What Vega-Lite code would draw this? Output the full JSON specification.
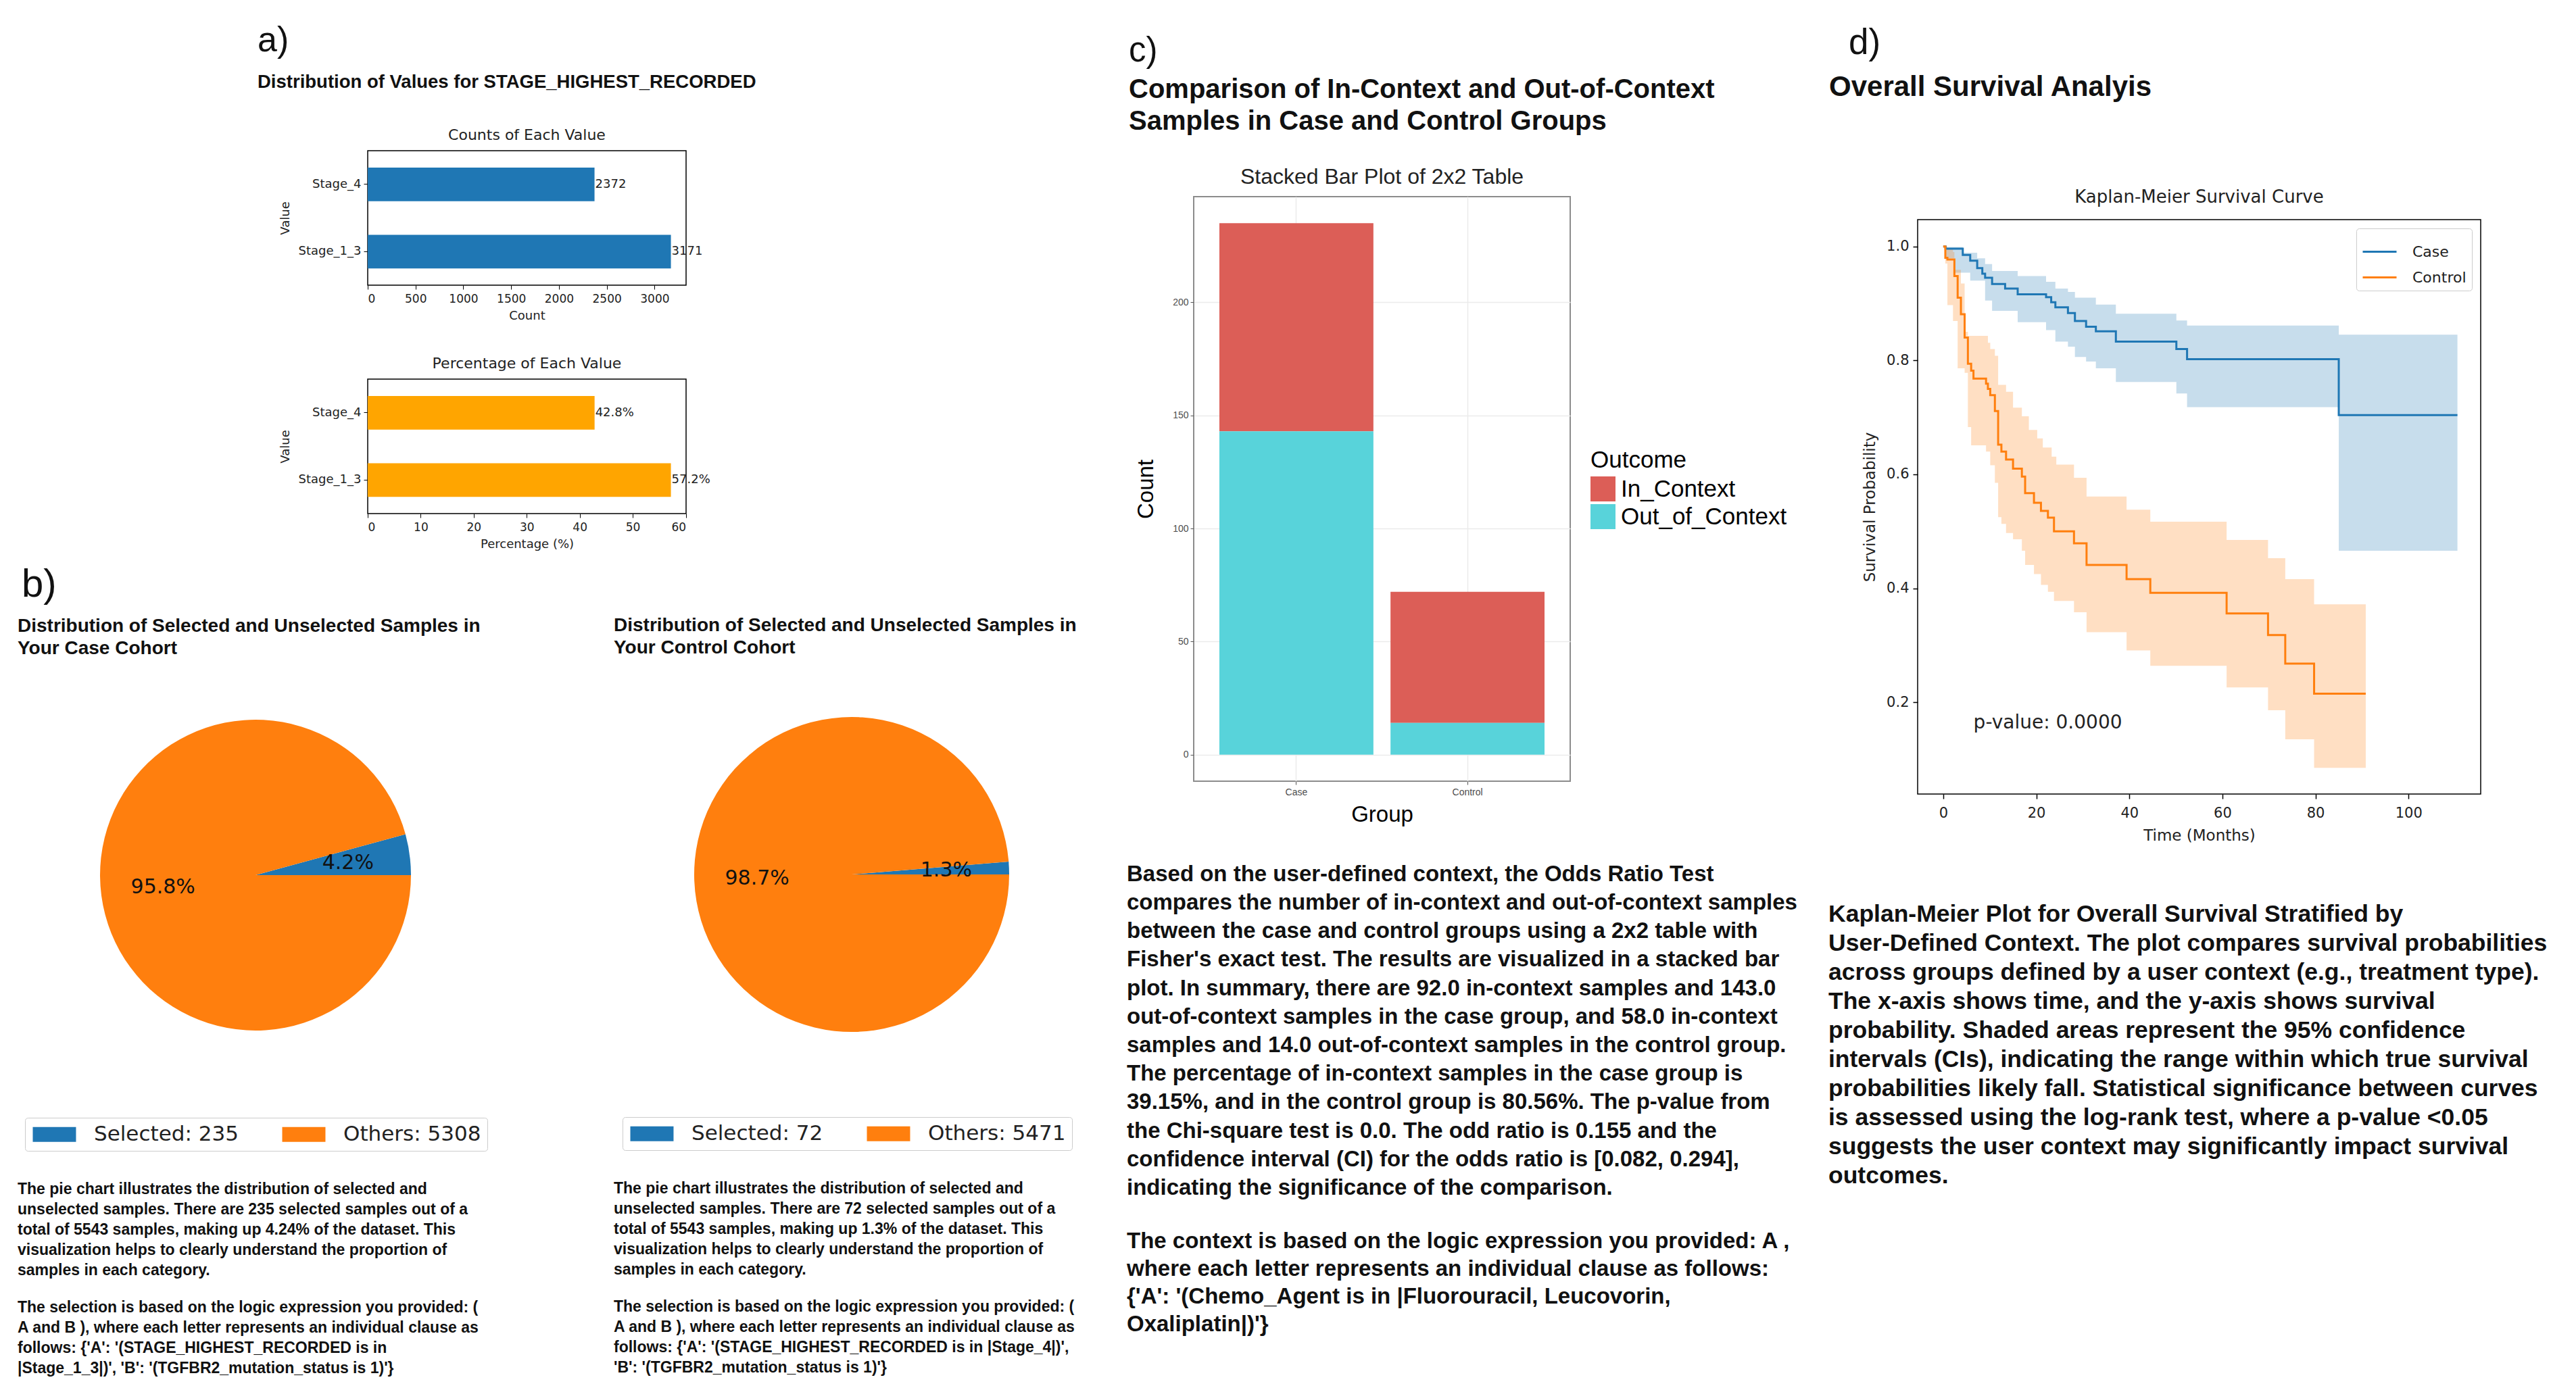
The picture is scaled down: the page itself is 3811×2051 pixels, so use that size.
{
  "$schema": "https://vega.github.io/schema/vega-lite/v6.json",
  "background": "white",
  "padding": 0,
  "config": {
    "view": {"stroke": null},
    "font": "Liberation Sans",
    "axis": {"grid": false, "domain": false},
    "title": {"color": "#111111", "subtitleColor": "#111111"},
    "legend": {"labelLimit": 2000}
  },
  "spacing": 0,
  "bounds": "flush",
  "resolve": {"scale": {"color": "independent", "theta": "independent"}, "legend": {"color": "independent"}},
  "hconcat": [
    {"width": 59, "height": 1, "data": {"values": []}, "mark": "point"},
    {
      "vconcat": [
        {"width": 1, "height": 837.2, "data": {"values": []}, "mark": "point",
         "title": {"text": "b)", "orient": "bottom", "anchor": "start", "frame": "group", "offset": 0, "dx": -27, "font": "Liberation Sans", "fontSize": 58, "fontWeight": "normal"}},
        {"width": 1, "height": 221.8, "data": {"values": []}, "mark": "point"},
        {
          "width": 638, "height": 470,
          "title": {"text": ["Distribution of Selected and Unselected Samples in", "Your Case Cohort"], "anchor": "start", "frame": "group", "offset": 86, "dx": -33, "font": "Liberation Sans", "fontSize": 28, "fontWeight": "bold", "lineHeight": 33},
          "data": {"values": [
            {"label": "Selected: 235", "n": 235, "pct": "4.2%", "k": 1},
            {"label": "Others: 5308", "n": 5308, "pct": "95.8%", "k": 2}
          ]},
          "encoding": {
            "theta": {"field": "n", "type": "quantitative", "stack": true, "scale": {"range": [1.5708, -4.7124]}},
            "order": {"field": "k", "type": "quantitative"}
          },
          "layer": [
            {"mark": {"type": "arc", "outerRadius": 230},
             "encoding": {"color": {"field": "label", "type": "nominal", "scale": {"domain": ["Selected: 235", "Others: 5308"], "range": ["#1f77b4", "#ff7f0e"]},
               "legend": {"orient": "none", "legendX": -22, "legendY": 594, "direction": "horizontal", "title": null, "labelFont": "DejaVu Sans", "labelFontSize": 31, "labelColor": "#222222", "symbolType": "M-1,-0.846H3.92V0.846H-1Z", "symbolSize": 676, "symbolStrokeWidth": 0, "symbolOpacity": 1, "labelOffset": 62, "columnPadding": 62, "padding": 9, "strokeColor": "#cccccc", "cornerRadius": 4, "fillColor": "white"}}}},
            {"mark": {"type": "text", "radius": 138, "font": "DejaVu Sans", "fontSize": 30},
             "encoding": {"text": {"field": "pct", "type": "nominal"}, "detail": {"field": "label", "type": "nominal"}, "color": {"value": "#111111"}}}
          ]
        },
        {"width": 1, "height": 218.8, "data": {"values": []}, "mark": "point",
         "title": {"text": [
            "The pie chart illustrates the distribution of selected and",
            "unselected samples. There are 235 selected samples out of a",
            "total of 5543 samples, making up 4.24% of the dataset. This",
            "visualization helps to clearly understand the proportion of",
            "samples in each category."],
            "subtitle": [
            "The selection is based on the logic expression you provided: (",
            "A and B ), where each letter represents an individual clause as",
            "follows: {'A': '(STAGE_HIGHEST_RECORDED is in",
            "|Stage_1_3|)', 'B': '(TGFBR2_mutation_status is 1)'}"],
            "orient": "bottom", "anchor": "start", "frame": "group", "offset": 0, "dx": -33,
            "font": "Liberation Sans", "fontSize": 23, "fontWeight": "bold", "lineHeight": 30,
            "subtitleFont": "Liberation Sans", "subtitleFontSize": 23, "subtitleFontWeight": "bold", "subtitleLineHeight": 30, "subtitlePadding": 32}}
      ],
      "spacing": 0,
      "bounds": "flush",
      "resolve": {"scale": {"color": "independent", "theta": "independent"}, "legend": {"color": "independent"}}
    },
    {"width": 485, "height": 1, "data": {"values": []}, "mark": "point"},
    {
      "vconcat": [
        {"width": 1, "height": 35, "data": {"values": []}, "mark": "point",
         "title": {"text": "a)", "subtitle": "Distribution of Values for STAGE_HIGHEST_RECORDED", "orient": "bottom", "anchor": "start", "frame": "group", "offset": 0, "dx": -163, "font": "Liberation Sans", "fontSize": 52, "fontWeight": "normal", "subtitleFont": "Liberation Sans", "subtitleFontSize": 27.5, "subtitleFontWeight": "bold", "subtitlePadding": 21}},
        {"width": 1, "height": 188, "data": {"values": []}, "mark": "point"},
        {
          "width": 471, "height": 199,
          "view": {"stroke": "black", "strokeWidth": 1.5},
          "title": {"text": "Counts of Each Value", "font": "DejaVu Sans", "fontSize": 22, "fontWeight": "normal", "offset": 11, "frame": "group", "anchor": "middle", "color": "#222222"},
          "data": {"values": [
            {"Value": "Stage_4", "Count": 2372},
            {"Value": "Stage_1_3", "Count": 3171}
          ]},
          "encoding": {
            "y": {"field": "Value", "type": "nominal", "sort": ["Stage_4", "Stage_1_3"], "scale": {"paddingInner": 0.5, "paddingOuter": 0.25},
              "axis": {"title": "Value", "titleFont": "DejaVu Sans", "titleFontSize": 18, "titleFontWeight": "normal", "titleColor": "#222222", "labelFont": "DejaVu Sans", "labelFontSize": 18, "labelColor": "#222222", "tickColor": "black", "tickSize": 6, "labelPadding": 4, "titlePadding": 10}},
            "x": {"field": "Count", "type": "quantitative", "scale": {"domain": [0, 3329.55], "nice": false},
              "axis": {"title": "Count", "values": [0, 500, 1000, 1500, 2000, 2500, 3000], "format": "d", "titleFont": "DejaVu Sans", "titleFontSize": 18, "titleFontWeight": "normal", "titleColor": "#222222", "labelFont": "DejaVu Sans", "labelFontSize": 17, "labelColor": "#222222", "tickColor": "black", "tickSize": 6, "labelPadding": 6, "titlePadding": 8}}
          },
          "layer": [
            {"mark": {"type": "bar", "color": "#1f77b4"}},
            {"mark": {"type": "text", "align": "left", "baseline": "middle", "dx": 1, "font": "DejaVu Sans", "fontSize": 18, "color": "#222222"}, "encoding": {"text": {"field": "Count", "type": "quantitative", "format": "d"}}}
          ]
        },
        {"width": 1, "height": 139, "data": {"values": []}, "mark": "point"},
        {
          "width": 471, "height": 199,
          "view": {"stroke": "black", "strokeWidth": 1.5},
          "title": {"text": "Percentage of Each Value", "font": "DejaVu Sans", "fontSize": 22, "fontWeight": "normal", "offset": 11, "frame": "group", "anchor": "middle", "color": "#222222"},
          "data": {"values": [
            {"Value": "Stage_4", "Percentage": 42.8, "label": "42.8%"},
            {"Value": "Stage_1_3", "Percentage": 57.2, "label": "57.2%"}
          ]},
          "encoding": {
            "y": {"field": "Value", "type": "nominal", "sort": ["Stage_4", "Stage_1_3"], "scale": {"paddingInner": 0.5, "paddingOuter": 0.25},
              "axis": {"title": "Value", "titleFont": "DejaVu Sans", "titleFontSize": 18, "titleFontWeight": "normal", "titleColor": "#222222", "labelFont": "DejaVu Sans", "labelFontSize": 18, "labelColor": "#222222", "tickColor": "black", "tickSize": 6, "labelPadding": 4, "titlePadding": 10}},
            "x": {"field": "Percentage", "type": "quantitative", "scale": {"domain": [0, 60.06], "nice": false},
              "axis": {"title": "Percentage (%)", "values": [0, 10, 20, 30, 40, 50, 60], "titleFont": "DejaVu Sans", "titleFontSize": 18, "titleFontWeight": "normal", "titleColor": "#222222", "labelFont": "DejaVu Sans", "labelFontSize": 17, "labelColor": "#222222", "tickColor": "black", "tickSize": 6, "labelPadding": 6, "titlePadding": 8}}
          },
          "layer": [
            {"mark": {"type": "bar", "color": "#ffa500"}},
            {"mark": {"type": "text", "align": "left", "baseline": "middle", "dx": 1, "font": "DejaVu Sans", "fontSize": 18, "color": "#222222"}, "encoding": {"text": {"field": "label", "type": "nominal"}}}
          ]
        }
      ],
      "spacing": 0,
      "bounds": "flush"
    },
    {"width": 476, "height": 1, "data": {"values": []}, "mark": "point"},
    {
      "vconcat": [
        {"width": 1, "height": 1059, "data": {"values": []}, "mark": "point"},
        {
          "width": 480, "height": 470,
          "title": {"text": ["Distribution of Selected and Unselected Samples in", "Your Control Cohort"], "anchor": "start", "frame": "group", "offset": 86, "dx": -112, "font": "Liberation Sans", "fontSize": 28, "fontWeight": "bold", "lineHeight": 33},
          "data": {"values": [
            {"label": "Selected: 72", "n": 72, "pct": "1.3%", "k": 1},
            {"label": "Others: 5471", "n": 5471, "pct": "98.7%", "k": 2}
          ]},
          "encoding": {
            "theta": {"field": "n", "type": "quantitative", "stack": true, "scale": {"range": [1.5708, -4.7124]}},
            "order": {"field": "k", "type": "quantitative"}
          },
          "layer": [
            {"mark": {"type": "arc", "outerRadius": 233},
             "encoding": {"color": {"field": "label", "type": "nominal", "scale": {"domain": ["Selected: 72", "Others: 5471"], "range": ["#1f77b4", "#ff7f0e"]},
               "legend": {"orient": "none", "legendX": -99, "legendY": 594, "direction": "horizontal", "title": null, "labelFont": "DejaVu Sans", "labelFontSize": 31, "labelColor": "#222222", "symbolType": "M-1,-0.846H3.92V0.846H-1Z", "symbolSize": 676, "symbolStrokeWidth": 0, "symbolOpacity": 1, "labelOffset": 62, "columnPadding": 62, "padding": 9, "strokeColor": "#cccccc", "cornerRadius": 4, "fillColor": "white"}}}},
            {"mark": {"type": "text", "radius": 140, "font": "DejaVu Sans", "fontSize": 30},
             "encoding": {"text": {"field": "pct", "type": "nominal"}, "detail": {"field": "label", "type": "nominal"}, "color": {"value": "#111111"}}}
          ]
        },
        {"width": 1, "height": 218.8, "data": {"values": []}, "mark": "point",
         "title": {"text": [
            "The pie chart illustrates the distribution of selected and",
            "unselected samples. There are 72 selected samples out of a",
            "total of 5543 samples, making up 1.3% of the dataset. This",
            "visualization helps to clearly understand the proportion of",
            "samples in each category."],
            "subtitle": [
            "The selection is based on the logic expression you provided: (",
            "A and B ), where each letter represents an individual clause as",
            "follows: {'A': '(STAGE_HIGHEST_RECORDED is in |Stage_4|)',",
            "'B': '(TGFBR2_mutation_status is 1)'}"],
            "orient": "bottom", "anchor": "start", "frame": "group", "offset": 0, "dx": -112,
            "font": "Liberation Sans", "fontSize": 23, "fontWeight": "bold", "lineHeight": 30,
            "subtitleFont": "Liberation Sans", "subtitleFontSize": 23, "subtitleFontWeight": "bold", "subtitleLineHeight": 30, "subtitlePadding": 32}}
      ],
      "spacing": 0,
      "bounds": "flush",
      "resolve": {"scale": {"color": "independent", "theta": "independent"}, "legend": {"color": "independent"}}
    },
    {"width": 746, "height": 1, "data": {"values": []}, "mark": "point"},
    {
      "vconcat": [
        {"width": 1, "height": 50.7, "data": {"values": []}, "mark": "point",
         "title": {"text": "c)", "subtitle": ["Comparison of In-Context and Out-of-Context", "Samples in Case and Control Groups"], "orient": "bottom", "anchor": "start", "frame": "group", "offset": 0, "dx": -96, "font": "Liberation Sans", "fontSize": 51, "fontWeight": "normal", "subtitleFont": "Liberation Sans", "subtitleFontSize": 40, "subtitleFontWeight": "bold", "subtitleLineHeight": 47, "subtitlePadding": 11.7}},
        {"width": 1, "height": 239.3, "data": {"values": []}, "mark": "point"},
        {
          "width": 557, "height": 865,
          "view": {"stroke": "#8c8c8c", "strokeWidth": 2},
          "title": {"text": "Stacked Bar Plot of 2x2 Table", "frame": "group", "anchor": "middle", "offset": 11.8, "font": "Liberation Sans", "fontSize": 32, "fontWeight": "normal", "color": "#222222"},
          "data": {"values": [
            {"Group": "Case", "Outcome": "In_Context", "Count": 92},
            {"Group": "Case", "Outcome": "Out_of_Context", "Count": 143},
            {"Group": "Control", "Outcome": "In_Context", "Count": 58},
            {"Group": "Control", "Outcome": "Out_of_Context", "Count": 14}
          ]},
          "mark": {"type": "bar"},
          "encoding": {
            "x": {"field": "Group", "type": "nominal", "scale": {"paddingInner": 0.1, "paddingOuter": 0.15},
              "axis": {"title": "Group", "labelAngle": 0, "grid": true, "bandPosition": 0.5, "gridColor": "#ebebeb", "gridWidth": 1.5, "tickColor": "#555555", "tickSize": 5, "labelColor": "#4d4d4d", "labelFontSize": 14, "labelPadding": 4, "titleFontSize": 33, "titleFontWeight": "normal", "titleColor": "black", "titlePadding": 10}},
            "y": {"field": "Count", "type": "quantitative", "stack": "zero", "scale": {"domain": [-11.75, 246.75], "nice": false, "zero": false},
              "axis": {"title": "Count", "values": [0, 50, 100, 150, 200], "grid": true, "gridColor": "#ebebeb", "gridWidth": 1.5, "tickColor": "#555555", "tickSize": 5, "labelColor": "#4d4d4d", "labelFontSize": 14, "labelPadding": 3, "titleFontSize": 33, "titleFontWeight": "normal", "titleColor": "black", "titlePadding": 22}},
            "color": {"field": "Outcome", "type": "nominal", "scale": {"domain": ["In_Context", "Out_of_Context"], "range": ["#dc5e57", "#58d3da"]},
              "legend": {"orient": "none", "legendX": 587, "legendY": 373, "title": "Outcome", "titleFontSize": 35, "titleFontWeight": "normal", "titleColor": "black", "titlePadding": 6, "labelFontSize": 35, "labelColor": "black", "symbolType": "square", "symbolSize": 1369, "symbolStrokeWidth": 0, "symbolOpacity": 1, "labelOffset": 8, "rowPadding": 4, "padding": 0}},
            "order": {"field": "Outcome", "sort": "descending"}
          }
        },
        {"width": 1, "height": 121.9, "data": {"values": []}, "mark": "point",
         "title": {"text": [
            "Based on the user-defined context, the Odds Ratio Test",
            "compares the number of in-context and out-of-context samples",
            "between the case and control groups using a 2x2 table with",
            "Fisher's exact test. The results are visualized in a stacked bar",
            "plot. In summary, there are 92.0 in-context samples and 143.0",
            "out-of-context samples in the case group, and 58.0 in-context",
            "samples and 14.0 out-of-context samples in the control group.",
            "The percentage of in-context samples in the case group is",
            "39.15%, and in the control group is 80.56%. The p-value from",
            "the Chi-square test is 0.0. The odd ratio is 0.155 and the",
            "confidence interval (CI) for the odds ratio is [0.082, 0.294],",
            "indicating the significance of the comparison."],
            "subtitle": [
            "The context is based on the logic expression you provided: A ,",
            "where each letter represents an individual clause as follows:",
            "{'A': '(Chemo_Agent is in |Fluorouracil, Leucovorin,",
            "Oxaliplatin|)'}"],
            "orient": "bottom", "anchor": "start", "frame": "group", "offset": 0, "dx": -99,
            "font": "Liberation Sans", "fontSize": 33, "fontWeight": "bold", "lineHeight": 42.2,
            "subtitleFont": "Liberation Sans", "subtitleFontSize": 33, "subtitleFontWeight": "bold", "subtitleLineHeight": 41, "subtitlePadding": 45.8}}
      ],
      "spacing": 0,
      "bounds": "flush",
      "resolve": {"scale": {"color": "independent"}, "legend": {"color": "independent"}}
    },
    {"width": 1071, "height": 1, "data": {"values": []}, "mark": "point"},
    {
      "vconcat": [
        {"width": 1, "height": 38.1, "data": {"values": []}, "mark": "point",
         "title": {"text": "d)", "orient": "bottom", "anchor": "start", "frame": "group", "offset": 0, "dx": -102, "font": "Liberation Sans", "fontSize": 53, "fontWeight": "normal"}},
        {"width": 1, "height": 70.4, "data": {"values": []}, "mark": "point",
         "title": {"text": "Overall Survival Analyis", "orient": "bottom", "anchor": "start", "frame": "group", "offset": 0, "dx": -131, "font": "Liberation Sans", "fontSize": 42, "fontWeight": "bold"}},
        {"width": 1, "height": 214.5, "data": {"values": []}, "mark": "point"},
        {
          "width": 833, "height": 850,
          "view": {"stroke": "black", "strokeWidth": 1.5},
          "title": {"text": "Kaplan-Meier Survival Curve", "frame": "group", "anchor": "middle", "offset": 20, "font": "DejaVu Sans", "fontSize": 26, "fontWeight": "normal", "color": "#222222"},
          "data": {"values": [
            {"g": "Case", "t": 0, "s": 1.0, "lo": 1.0, "hi": 1.0},
            {"g": "Case", "t": 0.5, "s": 0.996, "lo": 0.979, "hi": 0.999},
            {"g": "Case", "t": 2.4, "s": 0.996, "lo": 0.954, "hi": 0.999},
            {"g": "Case", "t": 4.2, "s": 0.985, "lo": 0.954, "hi": 0.989},
            {"g": "Case", "t": 5.8, "s": 0.975, "lo": 0.94, "hi": 0.989},
            {"g": "Case", "t": 7.3, "s": 0.962, "lo": 0.94, "hi": 0.979},
            {"g": "Case", "t": 8.4, "s": 0.952, "lo": 0.94, "hi": 0.979},
            {"g": "Case", "t": 9.0, "s": 0.945, "lo": 0.905, "hi": 0.969},
            {"g": "Case", "t": 10.5, "s": 0.934, "lo": 0.887, "hi": 0.957},
            {"g": "Case", "t": 13.3, "s": 0.926, "lo": 0.887, "hi": 0.957},
            {"g": "Case", "t": 16, "s": 0.916, "lo": 0.867, "hi": 0.948},
            {"g": "Case", "t": 22.1, "s": 0.911, "lo": 0.853, "hi": 0.938},
            {"g": "Case", "t": 23.2, "s": 0.902, "lo": 0.853, "hi": 0.938},
            {"g": "Case", "t": 24.1, "s": 0.893, "lo": 0.833, "hi": 0.926},
            {"g": "Case", "t": 26.8, "s": 0.883, "lo": 0.824, "hi": 0.92},
            {"g": "Case", "t": 28.3, "s": 0.869, "lo": 0.806, "hi": 0.91},
            {"g": "Case", "t": 30.7, "s": 0.859, "lo": 0.798, "hi": 0.91},
            {"g": "Case", "t": 32.8, "s": 0.851, "lo": 0.786, "hi": 0.898},
            {"g": "Case", "t": 37.1, "s": 0.833, "lo": 0.762, "hi": 0.882},
            {"g": "Case", "t": 50.1, "s": 0.82, "lo": 0.742, "hi": 0.87},
            {"g": "Case", "t": 52.4, "s": 0.802, "lo": 0.718, "hi": 0.861},
            {"g": "Case", "t": 85, "s": 0.704, "lo": 0.466, "hi": 0.845},
            {"g": "Case", "t": 110.5, "s": 0.704, "lo": 0.466, "hi": 0.845},
            {"g": "Control", "t": 0, "s": 1.0, "lo": 1.0, "hi": 1.0},
            {"g": "Control", "t": 0.45, "s": 0.98, "lo": 0.97, "hi": 1.0},
            {"g": "Control", "t": 0.9, "s": 0.977, "lo": 0.897, "hi": 0.995},
            {"g": "Control", "t": 2.1, "s": 0.977, "lo": 0.869, "hi": 0.99},
            {"g": "Control", "t": 2.4, "s": 0.948, "lo": 0.869, "hi": 0.959},
            {"g": "Control", "t": 3.1, "s": 0.91, "lo": 0.786, "hi": 0.959},
            {"g": "Control", "t": 3.8, "s": 0.881, "lo": 0.786, "hi": 0.935},
            {"g": "Control", "t": 4.6, "s": 0.84, "lo": 0.778, "hi": 0.85},
            {"g": "Control", "t": 5.3, "s": 0.794, "lo": 0.683, "hi": 0.843},
            {"g": "Control", "t": 6.0, "s": 0.782, "lo": 0.651, "hi": 0.843},
            {"g": "Control", "t": 6.5, "s": 0.768, "lo": 0.651, "hi": 0.843},
            {"g": "Control", "t": 9.2, "s": 0.759, "lo": 0.64, "hi": 0.843},
            {"g": "Control", "t": 9.6, "s": 0.75, "lo": 0.64, "hi": 0.831},
            {"g": "Control", "t": 10.1, "s": 0.739, "lo": 0.616, "hi": 0.82},
            {"g": "Control", "t": 11.1, "s": 0.711, "lo": 0.585, "hi": 0.808},
            {"g": "Control", "t": 11.8, "s": 0.652, "lo": 0.525, "hi": 0.757},
            {"g": "Control", "t": 12.5, "s": 0.64, "lo": 0.513, "hi": 0.757},
            {"g": "Control", "t": 13.5, "s": 0.626, "lo": 0.497, "hi": 0.745},
            {"g": "Control", "t": 15, "s": 0.61, "lo": 0.486, "hi": 0.717},
            {"g": "Control", "t": 16.9, "s": 0.596, "lo": 0.466, "hi": 0.702},
            {"g": "Control", "t": 17.6, "s": 0.567, "lo": 0.441, "hi": 0.702},
            {"g": "Control", "t": 18.4, "s": 0.567, "lo": 0.441, "hi": 0.678},
            {"g": "Control", "t": 19.5, "s": 0.55, "lo": 0.425, "hi": 0.678},
            {"g": "Control", "t": 20.2, "s": 0.55, "lo": 0.425, "hi": 0.663},
            {"g": "Control", "t": 21, "s": 0.536, "lo": 0.406, "hi": 0.663},
            {"g": "Control", "t": 21.4, "s": 0.536, "lo": 0.406, "hi": 0.647},
            {"g": "Control", "t": 22.5, "s": 0.524, "lo": 0.394, "hi": 0.647},
            {"g": "Control", "t": 23.3, "s": 0.524, "lo": 0.394, "hi": 0.631},
            {"g": "Control", "t": 23.8, "s": 0.5, "lo": 0.378, "hi": 0.631},
            {"g": "Control", "t": 24.3, "s": 0.5, "lo": 0.378, "hi": 0.617},
            {"g": "Control", "t": 28.1, "s": 0.479, "lo": 0.358, "hi": 0.594},
            {"g": "Control", "t": 30.8, "s": 0.441, "lo": 0.323, "hi": 0.561},
            {"g": "Control", "t": 39.4, "s": 0.416, "lo": 0.291, "hi": 0.538},
            {"g": "Control", "t": 44.5, "s": 0.392, "lo": 0.264, "hi": 0.517},
            {"g": "Control", "t": 60.9, "s": 0.356, "lo": 0.226, "hi": 0.485},
            {"g": "Control", "t": 69.8, "s": 0.318, "lo": 0.186, "hi": 0.453},
            {"g": "Control", "t": 73.5, "s": 0.268, "lo": 0.135, "hi": 0.416},
            {"g": "Control", "t": 79.7, "s": 0.215, "lo": 0.085, "hi": 0.372},
            {"g": "Control", "t": 90.8, "s": 0.215, "lo": 0.085, "hi": 0.372}
          ]},
          "encoding": {
            "x": {"field": "t", "type": "quantitative", "scale": {"domain": [-5.5, 115.5], "nice": false, "zero": false},
              "axis": {"title": "Time (Months)", "values": [0, 20, 40, 60, 80, 100], "tickColor": "black", "tickSize": 7, "tickWidth": 1.5, "labelFont": "DejaVu Sans", "labelFontSize": 21, "labelColor": "#222222", "labelPadding": 10, "titleFont": "DejaVu Sans", "titleFontSize": 23, "titleFontWeight": "normal", "titleColor": "#222222", "titlePadding": 12}}
          },
          "layer": [
            {"mark": {"type": "area", "interpolate": "step-after", "opacity": 0.25},
             "encoding": {
               "y": {"field": "lo", "type": "quantitative", "scale": {"domain": [0.039, 1.047], "nice": false, "zero": false},
                 "axis": {"title": "Survival Probability", "values": [0.2, 0.4, 0.6, 0.8, 1.0], "format": ".1f", "tickColor": "black", "tickSize": 7, "tickWidth": 1.5, "labelFont": "DejaVu Sans", "labelFontSize": 21, "labelColor": "#222222", "labelPadding": 6, "titleFont": "DejaVu Sans", "titleFontSize": 23, "titleFontWeight": "normal", "titleColor": "#222222", "titlePadding": 12}},
               "y2": {"field": "hi"},
               "color": {"field": "g", "type": "nominal", "scale": {"domain": ["Case", "Control"], "range": ["#1f77b4", "#ff7f0e"]},
                 "legend": {"orient": "top-right", "offset": 13, "title": null, "symbolType": "stroke", "symbolSize": 2500, "symbolStrokeWidth": 3, "symbolOpacity": 1, "labelFont": "DejaVu Sans", "labelFontSize": 22, "labelColor": "#222222", "labelOffset": 22, "rowPadding": 0, "padding": 8, "strokeColor": "#cccccc", "cornerRadius": 4, "fillColor": "white"}}
             }},
            {"mark": {"type": "line", "interpolate": "step-after", "strokeWidth": 3},
             "encoding": {
               "y": {"field": "s", "type": "quantitative", "title": "Survival Probability"},
               "color": {"field": "g", "type": "nominal", "scale": {"domain": ["Case", "Control"], "range": ["#1f77b4", "#ff7f0e"]},
                 "legend": {"orient": "top-right", "offset": 13, "title": null, "symbolType": "stroke", "symbolSize": 2500, "symbolStrokeWidth": 3, "symbolOpacity": 1, "labelFont": "DejaVu Sans", "labelFontSize": 22, "labelColor": "#222222", "labelOffset": 22, "rowPadding": 0, "padding": 8, "strokeColor": "#cccccc", "cornerRadius": 4, "fillColor": "white"}}
             }},
            {"data": {"values": [{"t": 6.5, "s": 0.163, "label": "p-value: 0.0000"}]},
             "mark": {"type": "text", "align": "left", "baseline": "middle", "font": "DejaVu Sans", "fontSize": 28, "color": "#222222"},
             "encoding": {
               "y": {"field": "s", "type": "quantitative", "title": "Survival Probability"},
               "text": {"field": "label", "type": "nominal"}
             }}
          ]
        },
        {"width": 1, "height": 161.4, "data": {"values": []}, "mark": "point",
         "title": {"text": [
            "Kaplan-Meier Plot for Overall Survival Stratified by",
            "User-Defined Context. The plot compares survival probabilities",
            "across groups defined by a user context (e.g., treatment type).",
            "The x-axis shows time, and the y-axis shows survival",
            "probability. Shaded areas represent the 95% confidence",
            "intervals (CIs), indicating the range within which true survival",
            "probabilities likely fall. Statistical significance between curves",
            "is assessed using the log-rank test, where a p-value <0.05",
            "suggests the user context may significantly impact survival",
            "outcomes."],
            "orient": "bottom", "anchor": "start", "frame": "group", "offset": 0, "dx": -132,
            "font": "Liberation Sans", "fontSize": 35.5, "fontWeight": "bold", "lineHeight": 43}}
      ],
      "spacing": 0,
      "bounds": "flush",
      "resolve": {"scale": {"color": "independent"}, "legend": {"color": "independent"}}
    }
  ]
}
